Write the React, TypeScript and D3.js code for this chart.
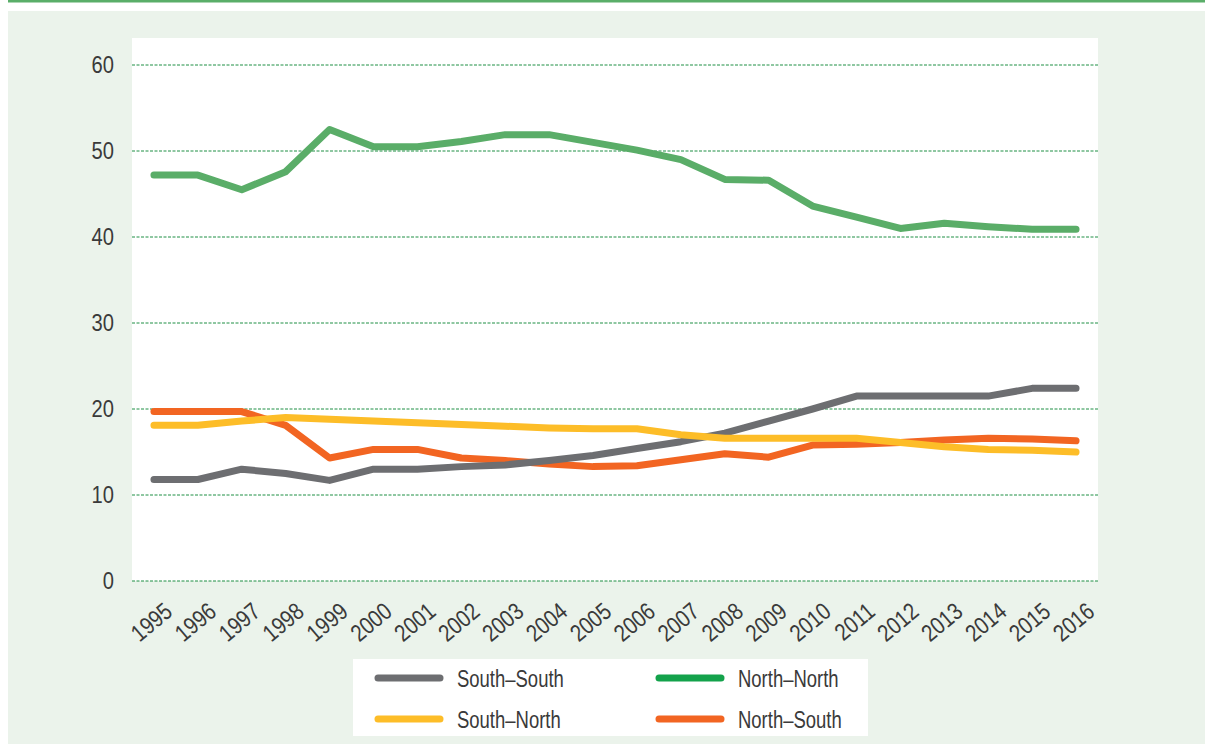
import React from "react";
import * as d3 from "d3";

const years = [
  "1995", "1996", "1997", "1998", "1999", "2000", "2001", "2002", "2003", "2004", "2005",
  "2006", "2007", "2008", "2009", "2010", "2011", "2012", "2013", "2014", "2015", "2016",
];
const southSouth = [11.8, 11.8, 13.0, 12.5, 11.7, 13.0, 13.0, 13.3, 13.5, 14.0, 14.6, 15.4, 16.2, 17.2, 18.6, 20.0, 21.5, 21.5, 21.5, 21.5, 22.4, 22.4];
const northNorth = [47.2, 47.2, 45.5, 47.6, 52.5, 50.5, 50.5, 51.1, 51.9, 51.9, 51.0, 50.1, 49.0, 46.7, 46.6, 43.6, 42.3, 41.0, 41.6, 41.2, 40.9, 40.9];
const southNorth = [18.1, 18.1, 18.6, 19.0, 18.8, 18.6, 18.4, 18.2, 18.0, 17.8, 17.7, 17.7, 17.0, 16.6, 16.6, 16.6, 16.6, 16.1, 15.6, 15.3, 15.2, 15.0];
const northSouth = [19.7, 19.7, 19.7, 18.1, 14.3, 15.3, 15.3, 14.3, 14.0, 13.6, 13.3, 13.4, 14.1, 14.8, 14.4, 15.8, 15.9, 16.1, 16.4, 16.6, 16.5, 16.3];
const yTicks = [0, 10, 20, 30, 40, 50, 60];

const series = [
  { name: "South\u2013South", values: southSouth, color: "#6d6e71", legend: "#6d6e71" },
  { name: "North\u2013North", values: northNorth, color: "#5aad68", legend: "#13a24b" },
  { name: "South\u2013North", values: southNorth, color: "#fdbd28", legend: "#fdbd28" },
  { name: "North\u2013South", values: northSouth, color: "#f26522", legend: "#f26522" },
];

const font = "'Liberation Sans', Arial, sans-serif";
const textColor = "#3a3a3a";

export default function App() {
  const plot = { left: 132, right: 1098, top: 38, bottom: 581 };

  const x = d3.scaleBand().domain(years).range([plot.left, plot.right]);
  const cx = (d: string) => (x(d) as number) + x.bandwidth() / 2;
  const y = d3.scaleLinear().domain([0, 60]).range([plot.bottom, 65]);

  const line = d3
    .line<number>()
    .x((_, i) => cx(years[i]))
    .y(d => y(d));

  // green first, then orange, gray, yellow on top
  const drawOrder = [series[1], series[3], series[0], series[2]];

  const legendRows = [
    [series[0], series[1]],
    [series[2], series[3]],
  ];

  return (
    <svg width={1205} height={744} style={{ position: "absolute", left: 0, top: 0 }} fontFamily={font}>
      <rect x={8} y={0} width={1197} height={2.5} fill="#5aae69" />
      <rect x={8} y={11} width={1197} height={733} fill="#ebf3eb" />
      <rect x={plot.left} y={plot.top} width={plot.right - plot.left} height={plot.bottom - plot.top} fill="#ffffff" />

      {yTicks.map(t => (
        <g key={t}>
          <line
            x1={plot.left}
            x2={plot.right}
            y1={y(t)}
            y2={y(t)}
            stroke="#1f8f45"
            strokeWidth={1}
            strokeDasharray="3,1.5"
          />
          <text
            transform={`translate(114,${y(t)}) scale(0.84,1)`}
            dy="0.35em"
            textAnchor="end"
            fontSize={24}
            fill={textColor}
          >
            {t}
          </text>
        </g>
      ))}

      {years.map(yr => (
        <text
          key={yr}
          transform={`translate(${cx(yr) + 20},${614}) rotate(-40) scale(0.84,1)`}
          textAnchor="end"
          fontSize={24}
          fill={textColor}
        >
          {yr}
        </text>
      ))}

      {drawOrder.map(s => (
        <path
          key={s.name}
          d={line(s.values) || ""}
          fill="none"
          stroke={s.color}
          strokeWidth={7}
          strokeLinecap="round"
          strokeLinejoin="round"
        />
      ))}

      <rect x={353} y={659} width={515} height={77} fill="#ffffff" />
      {legendRows.map((row, ri) =>
        row.map((s, ci) => {
          const lx = 378 + ci * 281;
          const ly = 678 + ri * 41;
          return (
            <g key={s.name}>
              <line x1={lx} x2={lx + 62} y1={ly} y2={ly} stroke={s.legend} strokeWidth={7} strokeLinecap="round" />
              <text
                transform={`translate(${lx + 79},${ly}) scale(0.77,1)`}
                dy="0.36em"
                fontSize={24}
                fill={textColor}
              >
                {s.name}
              </text>
            </g>
          );
        })
      )}
    </svg>
  );
}
